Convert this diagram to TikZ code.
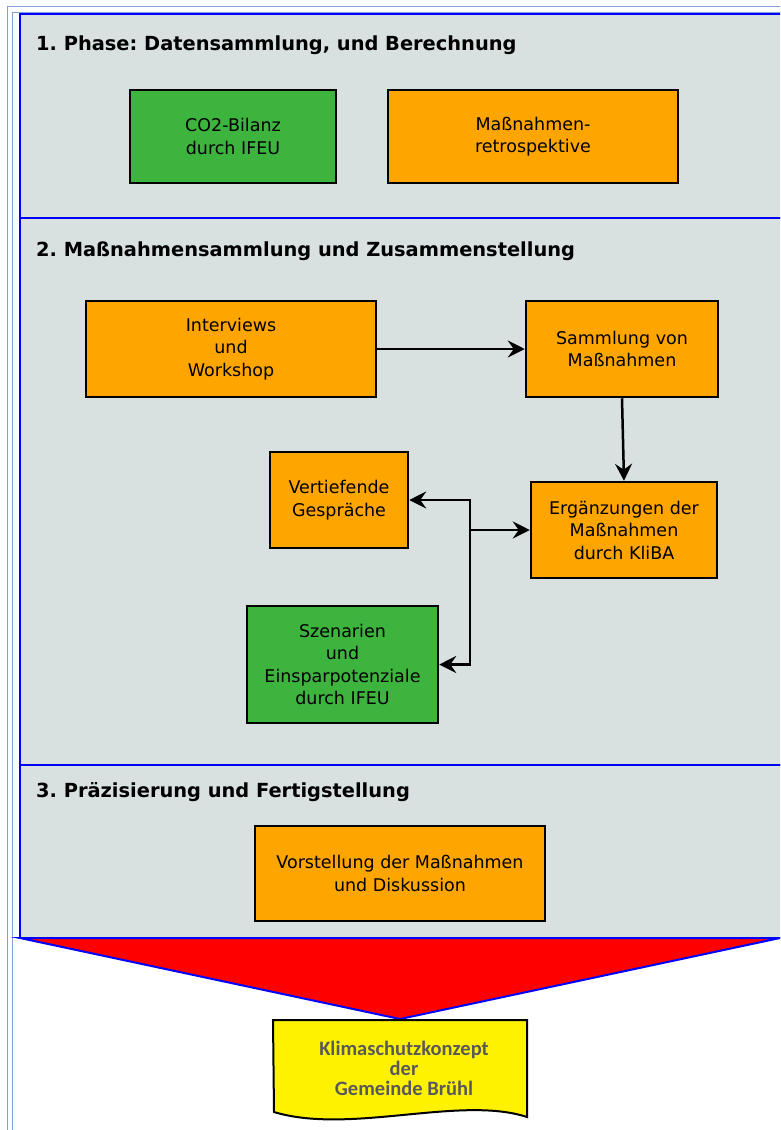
\documentclass[tikz,border=0pt]{standalone}
\usepackage{fontspec}
\setmainfont{DejaVu Sans}
\newfontfamily\calibrifont{Carlito}
\usetikzlibrary{arrows.meta}
\frenchspacing

\definecolor{panelgray}{RGB}{216,224,224}
\definecolor{boxgreen}{RGB}{61,180,61}
\definecolor{boxorange}{RGB}{255,165,0}
\definecolor{framelight}{RGB}{130,160,215}
\definecolor{textgray}{RGB}{89,89,89}

\tikzset{
    orangebox/.style={draw=black, line width=2.5pt, fill=boxorange, align=center, inner sep=0pt,
        font=\fontsize{17.5}{22.5}\selectfont},
    greenbox/.style={orangebox, fill=boxgreen},
    phase/.style={draw=blue, line width=2.5pt, fill=panelgray},
    heading/.style={anchor=base west, inner sep=0pt, font=\fontsize{19.4}{22}\selectfont\bfseries},
    pfeil/.style={-{Stealth[length=17pt,width=17pt,inset=6pt]}, line width=2.5pt}
}

\begin{document}
\begin{tikzpicture}[x=1pt,y=-1pt]
    \useasboundingbox (0,0) rectangle (780,1130);
    \clip (0,0) rectangle (780,1130);
    \fill[white] (0,0) rectangle (780,1130);
    % outer frame
    \draw[framelight, line width=1pt] (7,1130) -- (7,6) -- (790,6);
    \draw[framelight, line width=1pt] (12.5,1130) -- (12.5,12) -- (790,12);
    % phases
    \draw[phase] (20,14) rectangle (800,218);
    \draw[phase] (20,218) rectangle (800,765);
    \draw[phase] (20,765) rectangle (800,938);
    \draw[blue, line width=2pt, fill=red] (20,938) -- (780,938) -- (400,1019) -- cycle;
    \node[heading] (h1) at (36,50) {1. Phase: Datensammlung, und Berechnung};
    \node[heading] (h2) at (36,256) {2. Maßnahmensammlung und Zusammenstellung};
    \node[heading] (h3) at (36,797) {3. Präzisierung und Fertigstellung};
    % phase 1
    \node[greenbox, minimum width=206pt, minimum height=93pt] (co2) at (233,136.5) {CO2-Bilanz\\durch IFEU};
    \node[orangebox, minimum width=290pt, minimum height=93pt] (retro) at (533,136.5) {Maßnahmen-\\retrospektive};
    % phase 2
    \node[orangebox, minimum width=290pt, minimum height=96pt] (interviews) at (231,349) {Interviews\\und\\Workshop};
    \node[orangebox, minimum width=192pt, minimum height=96pt] (sammlung) at (622,349) {Sammlung von\\Maßnahmen};
    \node[orangebox, minimum width=138pt, minimum height=96pt] (vertief) at (339,500) {Vertiefende\\Gespräche};
    \node[orangebox, minimum width=186pt, minimum height=96pt] (ergaenz) at (624,530) {Ergänzungen der\\Maßnahmen\\durch KliBA};
    \node[greenbox, minimum width=191pt, minimum height=117pt] (szen) at (342.5,664.5) {Szenarien\\und\\Einsparpotenziale\\durch IFEU};
    \coordinate (j) at (470,530);
    \draw[pfeil] (interviews) -- (sammlung);
    \draw[pfeil] (sammlung.south) -- (ergaenz.north);
    \draw[pfeil] (j) -- (ergaenz.west);
    \draw[pfeil] (j) |- (vertief.east);
    \draw[pfeil] (j) |- (szen.east);
    % phase 3
    \node[orangebox, minimum width=290pt, minimum height=95pt] (vorst) at (400,873.5) {Vorstellung der Maßnahmen\\und Diskussion};
    % result
    \draw[line width=2pt, fill=yellow] (273,1020) -- (527,1020) -- (527,1117)
        .. controls (460,1095) and (350,1135) .. (274,1112) -- cycle;
    \node[align=center, text=textgray, font=\calibrifont\fontsize{20.5}{20}\selectfont\bfseries] (konzept) at (404,1068)
        {Klimaschutzkonzept\\der\\Gemeinde Brühl};
\end{tikzpicture}
\end{document}
